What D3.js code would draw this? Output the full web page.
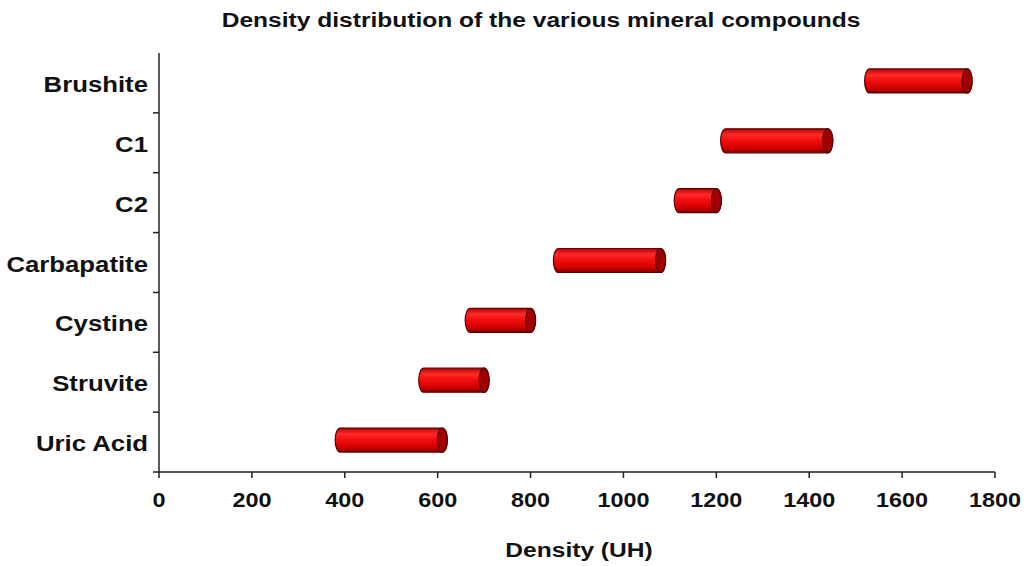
<!DOCTYPE html>
<html>
<head>
<meta charset="utf-8">
<script src="https://cdn.jsdelivr.net/npm/d3@7"></script>
<style>
body { margin: 0; background: #fff; }
text { font-family: "Liberation Sans", Arial, sans-serif; font-weight: bold; fill: #111; }
</style>
</head>
<body>
<script>
// data
var compounds = ["Brushite", "C1", "C2", "Carbapatite", "Cystine", "Struvite", "Uric Acid"];
var lowValues = [1530, 1220, 1120, 860, 670, 570, 390];
var highValues = [1740, 1440, 1200, 1080, 800, 700, 610];
var xTicks = [0, 200, 400, 600, 800, 1000, 1200, 1400, 1600, 1800];

var width = 1027, height = 566;
var plotLeft = 159, plotRight = 995, plotTop = 53, plotBottom = 472;
var stretch = 1.17; // text in the original is a bit wide

var svg = d3.select("body").append("svg")
  .attr("width", width)
  .attr("height", height);

// gradient for the cylinders
var defs = svg.append("defs");
var grad = defs.append("linearGradient")
  .attr("id", "cyl")
  .attr("x1", 0).attr("y1", 0).attr("x2", 0).attr("y2", 1);
grad.append("stop").attr("offset", "0%").attr("stop-color", "#b80000");
grad.append("stop").attr("offset", "25%").attr("stop-color", "#ff2a2a");
grad.append("stop").attr("offset", "45%").attr("stop-color", "#f51010");
grad.append("stop").attr("offset", "80%").attr("stop-color", "#d00000");
grad.append("stop").attr("offset", "100%").attr("stop-color", "#800000");

var x = d3.scaleLinear().domain([0, 1800]).range([plotLeft, plotRight]);
var y = d3.scaleBand().domain(compounds).range([plotTop, plotBottom]);

function wideText(sel, px, py) {
  return sel.attr("transform", "translate(" + px + "," + py + ") scale(" + stretch + ",1)");
}

// title
wideText(svg.append("text"), 541, 27)
  .attr("text-anchor", "middle")
  .style("font-size", "21px")
  .text("Density distribution of the various mineral compounds");

// x axis
var g = svg.append("g");
g.append("line")
  .attr("x1", plotLeft - 6).attr("x2", plotRight)
  .attr("y1", plotBottom).attr("y2", plotBottom)
  .attr("stroke", "#222").attr("stroke-width", 1.5);
g.selectAll(".xt")
  .data(xTicks).enter()
  .append("line")
  .attr("x1", d => x(d)).attr("x2", d => x(d))
  .attr("y1", plotBottom).attr("y2", plotBottom + 6)
  .attr("stroke", "#222").attr("stroke-width", 1.5);
g.selectAll(".xl")
  .data(xTicks).enter()
  .append("text")
  .attr("transform", d => "translate(" + x(d) + "," + (plotBottom + 35) + ") scale(" + stretch + ",1)")
  .attr("text-anchor", "middle")
  .style("font-size", "20px")
  .text(d => d);

wideText(svg.append("text"), 579, 557)
  .attr("text-anchor", "middle")
  .style("font-size", "21px")
  .text("Density (UH)");

// y axis
g.append("line")
  .attr("x1", plotLeft).attr("x2", plotLeft)
  .attr("y1", plotTop).attr("y2", plotBottom)
  .attr("stroke", "#222").attr("stroke-width", 1.5);
g.selectAll(".yt")
  .data(compounds.slice(1)).enter()
  .append("line")
  .attr("x1", plotLeft - 6).attr("x2", plotLeft)
  .attr("y1", d => y(d)).attr("y2", d => y(d))
  .attr("stroke", "#222").attr("stroke-width", 1.5);
g.selectAll(".yl")
  .data(compounds).enter()
  .append("text")
  .attr("transform", d => "translate(148," + (y(d) + y.bandwidth() / 2 + 9) + ") scale(" + stretch + ",1)")
  .attr("text-anchor", "end")
  .style("font-size", "22px")
  .text(d => d);

// cylinders
var h = 24, rx = 5;
var bars = svg.selectAll(".bar")
  .data(compounds).enter()
  .append("g");

bars.append("path")
  .attr("d", (d, i) => {
    var x0 = x(lowValues[i]), x1 = x(highValues[i]);
    var yc = y(d) + y.bandwidth() / 2 - 2;
    var t = yc - h / 2, b = yc + h / 2;
    return "M" + x0 + "," + t + "L" + x1 + "," + t +
      "A" + rx + "," + (h / 2) + " 0 0 1 " + x1 + "," + b +
      "L" + x0 + "," + b +
      "A" + rx + "," + (h / 2) + " 0 0 1 " + x0 + "," + t + "Z";
  })
  .attr("fill", "url(#cyl)")
  .attr("stroke", "#5a0000")
  .attr("stroke-width", 1.2);

bars.append("ellipse")
  .attr("cx", (d, i) => x(highValues[i]))
  .attr("cy", d => y(d) + y.bandwidth() / 2 - 2)
  .attr("rx", rx)
  .attr("ry", h / 2)
  .attr("fill", "#a00000")
  .attr("stroke", "#5a0000")
  .attr("stroke-width", 1.2);
</script>
</body>
</html>
